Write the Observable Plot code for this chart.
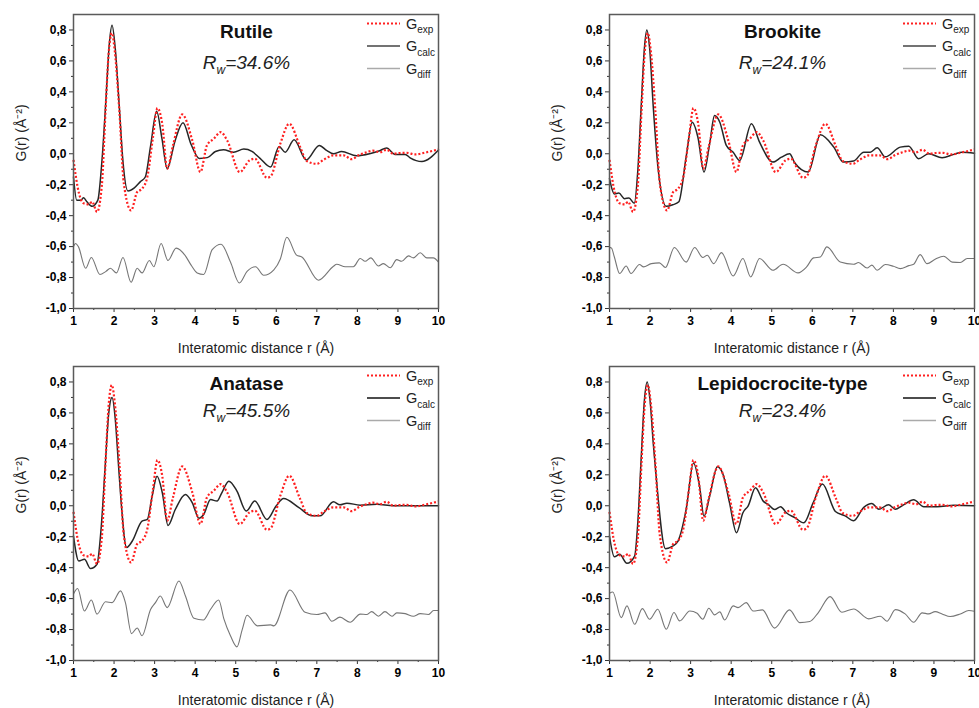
<!DOCTYPE html>
<html>
<head>
<meta charset="utf-8">
<script src="https://cdn.jsdelivr.net/npm/d3@7"></script>
<script src="https://cdn.jsdelivr.net/npm/@observablehq/plot@0.6"></script>
<style>
  html, body { margin: 0; padding: 0; background: #fff; overflow: hidden; }
  #wrap { position: relative; width: 979px; height: 708px; font-family: "Liberation Sans", Arial, sans-serif; }
  #wrap > .panel { position: absolute; }
  #overlay { position: absolute; left: 0; top: 0; pointer-events: none; }
</style>
</head>
<body>
<div id="wrap"></div>
<script>
// ---------------- data ----------------
const xTicks = [1, 2, 3, 4, 5, 6, 7, 8, 9, 10];
const xMinorTicks = [1.5, 2.5, 3.5, 4.5, 5.5, 6.5, 7.5, 8.5, 9.5];
const yTicks = [-1.0, -0.8, -0.6, -0.4, -0.2, 0.0, 0.2, 0.4, 0.6, 0.8];
const yMinorTicks = [-0.9, -0.7, -0.5, -0.3, -0.1, 0.1, 0.3, 0.5, 0.7];

const xLabel = "Interatomic distance r (Å)";
const yLabel = "G(r) (Å⁻²)";
const legendNames = ["exp", "calc", "diff"];

const titles = ["Rutile", "Brookite", "Anatase", "Lepidocrocite-type"];
const rwValues = ["34.6%", "24.1%", "45.5%", "23.4%"];

// experimental G(r), same in every panel
const gExp = [[1.00,-0.04],[1.13,-0.25],[1.25,-0.32],[1.38,-0.327],[1.46,-0.31],[1.58,-0.376],[1.70,-0.2],[1.79,0.28],[1.87,0.66],[1.945,0.78],[2.02,0.66],[2.13,0.28],[2.24,-0.19],[2.42,-0.366],[2.57,-0.247],[2.69,-0.226],[2.82,-0.15],[2.96,0.107],[3.07,0.295],[3.19,0.19],[3.31,-0.097],[3.45,0.05],[3.68,0.254],[3.93,0.086],[4.13,-0.118],[4.29,0.054],[4.46,0.097],[4.63,0.14],[4.79,0.086],[5.10,-0.118],[5.34,-0.043],[5.47,-0.032],[5.77,-0.155],[5.86,-0.146],[6.10,0.065],[6.32,0.194],[6.59,0.043],[6.75,-0.047],[7.00,-0.065],[7.16,-0.04],[7.41,-0.01],[7.66,-0.01],[7.86,-0.035],[8.03,-0.01],[8.23,0.01],[8.38,0.02],[8.56,0.01],[8.72,0.026],[8.89,0.0],[9.05,0.005],[9.22,0.006],[9.42,-0.004],[9.71,0.01],[10.0,0.028]];

const rutileCalc = [[1.0,-0.15],[1.08,-0.3],[1.18,-0.3],[1.25,-0.285],[1.33,-0.31],[1.46,-0.34],[1.6,-0.3],[1.7,-0.05],[1.8,0.35],[1.88,0.7],[1.95,0.83],[2.03,0.68],[2.13,0.3],[2.22,-0.05],[2.34,-0.24],[2.5,-0.22],[2.65,-0.18],[2.77,-0.15],[2.9,0.05],[3.05,0.275],[3.18,0.1],[3.31,-0.097],[3.5,0.08],[3.70,0.20],[3.9,0.06],[4.1,-0.03],[4.3,-0.025],[4.5,0.015],[4.7,0.026],[4.95,0.01],[5.2,0.03],[5.4,0.015],[5.6,-0.03],[5.86,-0.086],[6.07,0.047],[6.22,0.01],[6.44,0.09],[6.74,-0.04],[7.06,0.054],[7.25,0.02],[7.41,0.0],[7.61,0.015],[7.98,-0.013],[8.3,0.0],[8.55,0.02],[8.72,0.037],[8.93,-0.004],[9.18,-0.004],[9.3,-0.026],[9.59,-0.05],[10.0,0.025]];
const rutileDiff = [[1.0,-0.6],[1.05,-0.58],[1.12,-0.6],[1.30,-0.74],[1.44,-0.67],[1.65,-0.78],[1.8,-0.76],[1.91,-0.74],[2.06,-0.77],[2.22,-0.67],[2.42,-0.83],[2.57,-0.74],[2.69,-0.77],[2.87,-0.69],[2.98,-0.73],[3.16,-0.58],[3.33,-0.69],[3.53,-0.61],[3.76,-0.66],[3.9,-0.72],[4.05,-0.77],[4.21,-0.78],[4.42,-0.62],[4.64,-0.585],[4.87,-0.70],[5.09,-0.835],[5.28,-0.76],[5.49,-0.73],[5.69,-0.785],[5.94,-0.75],[6.1,-0.68],[6.26,-0.54],[6.5,-0.655],[6.63,-0.667],[7.04,-0.817],[7.41,-0.727],[7.49,-0.714],[7.7,-0.73],[7.9,-0.73],[8.07,-0.677],[8.19,-0.695],[8.33,-0.673],[8.52,-0.725],[8.64,-0.71],[8.81,-0.737],[8.97,-0.684],[9.09,-0.695],[9.26,-0.66],[9.38,-0.673],[9.55,-0.64],[9.71,-0.673],[9.87,-0.673],[10.0,-0.70]];

const brookiteCalc = [[1.0,-0.16],[1.12,-0.26],[1.23,-0.254],[1.37,-0.29],[1.48,-0.286],[1.61,-0.32],[1.7,-0.1],[1.78,0.3],[1.86,0.68],[1.92,0.80],[1.99,0.68],[2.08,0.3],[2.2,-0.1],[2.40,-0.34],[2.56,-0.33],[2.71,-0.31],[2.89,-0.02],[3.04,0.204],[3.18,0.107],[3.33,-0.118],[3.47,0.065],[3.59,0.247],[3.72,0.204],[3.88,0.054],[4.05,0.01],[4.21,-0.043],[4.50,0.194],[4.70,0.075],[5.03,-0.054],[5.24,-0.022],[5.44,0.0],[5.57,-0.06],[5.90,-0.118],[6.2,0.123],[6.53,0.043],[6.77,-0.054],[7.02,-0.047],[7.27,0.01],[7.43,0.01],[7.6,0.039],[7.8,-0.02],[8.17,0.043],[8.38,0.049],[8.62,-0.032],[8.87,0.0],[9.2,-0.026],[9.49,-0.004],[9.69,0.01],[10.0,0.004]];
const brookiteDiff = [[1.0,-0.605],[1.05,-0.61],[1.12,-0.667],[1.25,-0.774],[1.41,-0.725],[1.53,-0.774],[1.74,-0.716],[1.84,-0.731],[2.03,-0.71],[2.23,-0.705],[2.38,-0.735],[2.60,-0.606],[2.89,-0.70],[3.10,-0.606],[3.30,-0.67],[3.41,-0.656],[3.57,-0.71],[3.76,-0.639],[4.05,-0.79],[4.29,-0.677],[4.48,-0.796],[4.70,-0.677],[5.03,-0.753],[5.28,-0.714],[5.65,-0.77],[5.86,-0.731],[6.03,-0.673],[6.2,-0.667],[6.36,-0.602],[6.69,-0.70],[7.02,-0.714],[7.14,-0.703],[7.35,-0.738],[7.47,-0.72],[7.6,-0.753],[7.8,-0.716],[8.0,-0.727],[8.17,-0.742],[8.38,-0.723],[8.5,-0.714],[8.66,-0.652],[8.83,-0.71],[9.03,-0.682],[9.24,-0.662],[9.45,-0.70],[9.65,-0.703],[9.82,-0.677],[10.0,-0.677]];

const anataseCalc = [[1.0,-0.196],[1.13,-0.357],[1.27,-0.346],[1.42,-0.406],[1.58,-0.378],[1.68,-0.15],[1.78,0.25],[1.87,0.6],[1.95,0.70],[2.03,0.56],[2.1,0.3],[2.17,0.04],[2.31,-0.27],[2.45,-0.228],[2.69,-0.099],[2.82,-0.088],[2.94,0.062],[3.06,0.19],[3.19,0.084],[3.33,-0.127],[3.51,-0.024],[3.76,0.073],[3.93,0.019],[4.09,-0.08],[4.21,-0.056],[4.38,0.04],[4.54,0.03],[4.65,0.08],[4.83,0.159],[5.03,0.095],[5.26,-0.034],[5.47,0.03],[5.77,-0.088],[6.0,0.0],[6.18,0.047],[6.55,-0.01],[6.88,-0.065],[7.08,-0.065],[7.41,0.026],[7.57,0.006],[7.74,0.017],[8.07,0.004],[8.48,0.01],[8.89,0.0],[10.0,0.0]];
const anataseDiff = [[1.0,-0.57],[1.02,-0.56],[1.1,-0.535],[1.27,-0.68],[1.44,-0.609],[1.58,-0.70],[1.79,-0.62],[1.95,-0.626],[2.16,-0.55],[2.28,-0.626],[2.43,-0.826],[2.57,-0.79],[2.69,-0.84],[2.90,-0.67],[3.02,-0.626],[3.14,-0.583],[3.31,-0.658],[3.60,-0.486],[3.76,-0.583],[3.97,-0.727],[4.20,-0.738],[4.38,-0.669],[4.58,-0.609],[4.71,-0.733],[4.87,-0.84],[5.03,-0.912],[5.16,-0.80],[5.28,-0.708],[5.53,-0.776],[5.86,-0.77],[5.94,-0.776],[6.34,-0.544],[6.71,-0.688],[7.0,-0.703],[7.2,-0.692],[7.37,-0.746],[7.57,-0.72],[7.82,-0.753],[8.07,-0.70],[8.23,-0.703],[8.35,-0.684],[8.52,-0.714],[8.68,-0.684],[8.85,-0.714],[8.97,-0.692],[9.18,-0.697],[9.38,-0.714],[9.55,-0.697],[9.75,-0.703],[9.88,-0.677],[10.0,-0.677]];

const lepidoCalc = [[1.0,-0.196],[1.12,-0.33],[1.25,-0.314],[1.43,-0.372],[1.62,-0.325],[1.7,-0.1],[1.78,0.3],[1.86,0.68],[1.93,0.80],[2.0,0.68],[2.08,0.4],[2.15,0.19],[2.38,-0.277],[2.56,-0.26],[2.69,-0.228],[2.89,-0.024],[3.07,0.277],[3.22,0.127],[3.33,-0.067],[3.47,0.062],[3.66,0.252],[3.80,0.202],[3.96,0.019],[4.13,-0.174],[4.29,-0.045],[4.42,0.0],[4.60,0.116],[4.79,0.03],[4.91,0.009],[5.07,-0.024],[5.22,-0.006],[5.36,-0.045],[5.57,-0.077],[5.79,-0.11],[6.02,0.019],[6.25,0.14],[6.57,-0.037],[6.81,-0.065],[7.02,-0.097],[7.27,-0.01],[7.47,0.015],[7.64,-0.022],[7.88,0.006],[8.05,-0.022],[8.25,0.006],[8.5,0.039],[8.75,-0.006],[9.08,-0.006],[9.49,0.004],[10.0,0.0]];
const lepidoDiff = [[1.0,-0.565],[1.08,-0.557],[1.29,-0.723],[1.43,-0.647],[1.62,-0.766],[1.81,-0.665],[1.99,-0.733],[2.19,-0.669],[2.40,-0.798],[2.59,-0.69],[2.73,-0.744],[2.98,-0.68],[3.16,-0.695],[3.30,-0.733],[3.45,-0.662],[3.59,-0.705],[3.72,-0.686],[3.84,-0.738],[4.05,-0.647],[4.17,-0.658],[4.37,-0.626],[4.54,-0.68],[4.77,-0.673],[5.07,-0.791],[5.44,-0.673],[5.69,-0.755],[5.94,-0.748],[6.15,-0.69],[6.44,-0.587],[6.73,-0.688],[7.02,-0.667],[7.39,-0.731],[7.68,-0.714],[7.84,-0.746],[8.05,-0.671],[8.29,-0.699],[8.5,-0.753],[8.71,-0.692],[8.87,-0.699],[9.03,-0.684],[9.2,-0.699],[9.4,-0.716],[9.65,-0.699],[9.86,-0.677],[10.0,-0.682]];

const calcSeries = [rutileCalc, brookiteCalc, anataseCalc, lepidoCalc];
const diffSeries = [rutileDiff, brookiteDiff, anataseDiff, lepidoDiff];

// ---------------- layout ----------------
const layout = [
  {left: 0,   top: 0,   width: 470, height: 358, mr: 32, mb: 50, rwDy: 55},
  {left: 536, top: 0,   width: 443, height: 358, mr: 5,  mb: 50, rwDy: 55},
  {left: 0,   top: 352, width: 470, height: 356, mr: 32, mb: 48, rwDy: 51},
  {left: 536, top: 352, width: 443, height: 356, mr: 5,  mb: 48, rwDy: 51}
];
const ML = 73, MT = 14;
const RED = "#ff2020", CALC = "#262626", DIFF = "#767676";
const FONT = "'Liberation Sans', Arial, sans-serif";

const fmt = d => {
  const s = (Math.round(d * 10) / 10).toFixed(1).replace(".", ",");
  return s === "-0,0" ? "0,0" : s;
};

const wrap = document.getElementById("wrap");

layout.forEach((L, i) => {
  const chart = Plot.plot({
    width: L.width,
    height: L.height,
    marginLeft: ML,
    marginRight: L.mr,
    marginTop: MT,
    marginBottom: L.mb,
    style: {fontFamily: FONT, background: "transparent", overflow: "visible"},
    x: {domain: [1, 10]},
    y: {domain: [-1.0, 0.9]},
    marks: [
      Plot.axisY({ticks: yTicks, tickSize: 4, tickPadding: 3, tickFormat: fmt, fontSize: 12, fontWeight: "bold", label: null, stroke: "#333"}),
      Plot.axisY({ticks: yMinorTicks, tickSize: 2, tickFormat: () => "", label: null, stroke: "#333"}),
      Plot.axisX({ticks: xTicks, tickSize: 4, tickPadding: 4, tickFormat: d => String(d), fontSize: 12, fontWeight: "bold", label: null, stroke: "#333"}),
      Plot.axisX({ticks: xMinorTicks, tickSize: 2, tickFormat: () => "", label: null, stroke: "#333"}),
      Plot.text([xLabel], {frameAnchor: "bottom", dy: 40, text: d => d, fontSize: 14, fill: "#222", lineAnchor: "middle"}),
      Plot.text([yLabel], {frameAnchor: "left", dx: -52, rotate: -90, text: d => d, fontSize: 14, fill: "#222"}),
      Plot.line(diffSeries[i], {x: d => d[0], y: d => d[1], stroke: DIFF, strokeWidth: 1.1, curve: "monotone-x"}),
      Plot.line(calcSeries[i], {x: d => d[0], y: d => d[1], stroke: CALC, strokeWidth: 1.5, curve: "monotone-x"}),
      Plot.line(gExp, {x: d => d[0], y: d => d[1], stroke: RED, strokeWidth: 2.2, strokeDasharray: "2,2", strokeLinecap: "butt", curve: "monotone-x"}),
      Plot.frame({stroke: "#5a5a5a", strokeWidth: 1.5})
    ]
  });
  chart.classList.add("panel");
  chart.style.left = L.left + "px";
  chart.style.top = L.top + "px";
  wrap.appendChild(chart);
});

// ---------------- overlay: titles, R_w, legends ----------------
const ov = d3.select(wrap).append("svg")
  .attr("id", "overlay").attr("width", 979).attr("height", 708)
  .style("font-family", FONT);

layout.forEach((L, i) => {
  const fx0 = L.left + ML;
  const fx1 = L.left + L.width - L.mr;
  const fy0 = L.top + MT;
  const cx = (fx0 + fx1) / 2 - 9;

  ov.append("text").attr("x", cx).attr("y", fy0 + 24)
    .attr("text-anchor", "middle").attr("font-size", 19).attr("font-weight", "bold")
    .attr("fill", "#111").text(titles[i]);

  const rw = ov.append("text").attr("x", cx).attr("y", fy0 + L.rwDy)
    .attr("text-anchor", "middle").attr("font-size", 19).attr("font-style", "italic").attr("fill", "#222");
  rw.append("tspan").text("R");
  rw.append("tspan").attr("font-size", 12).attr("dy", 5).text("w");
  rw.append("tspan").attr("dy", -5).text("=" + rwValues[i]);

  const rowY = [9.5, 32, 54.5];
  const styles = [
    {stroke: RED, width: 2, dash: "2,2"},
    {stroke: i >= 2 ? "#111" : "#444", width: 1.6, dash: null},
    {stroke: "#aaaaaa", width: 1.4, dash: null}
  ];
  legendNames.forEach((nm, k) => {
    const y = fy0 + rowY[k];
    const ln = ov.append("line")
      .attr("x1", fx1 - 71).attr("x2", fx1 - 38).attr("y1", y).attr("y2", y)
      .attr("stroke", styles[k].stroke).attr("stroke-width", styles[k].width);
    if (styles[k].dash) ln.attr("stroke-dasharray", styles[k].dash);
    const t = ov.append("text").attr("x", fx1 - 32).attr("y", y + 5)
      .attr("font-size", 14.5).attr("fill", "#222");
    t.append("tspan").text("G");
    t.append("tspan").attr("font-size", 10).attr("dy", 4.5).text(nm);
  });
});
</script>
</body>
</html>
